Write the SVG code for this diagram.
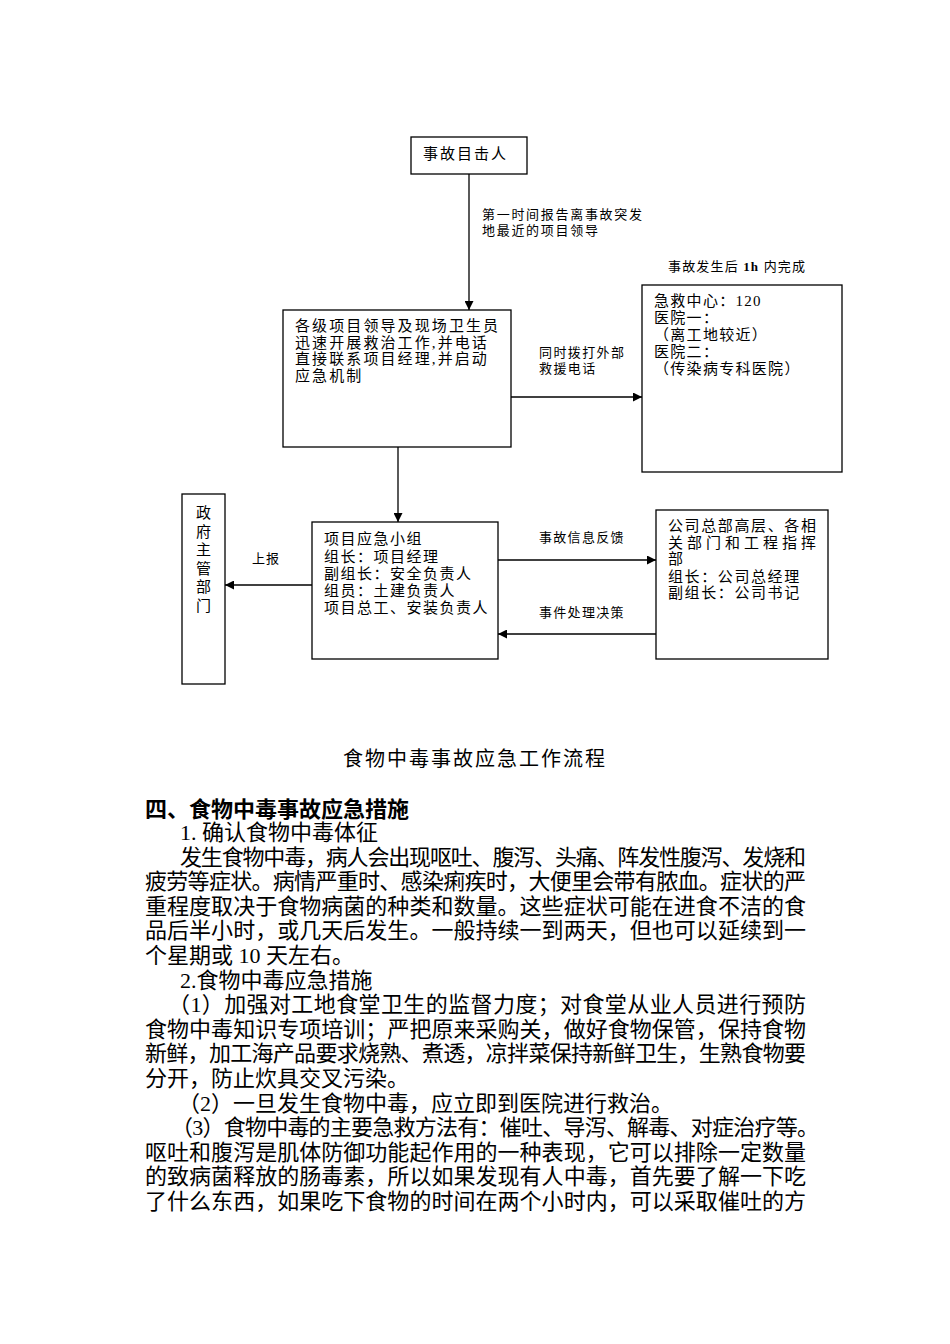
<svg xmlns="http://www.w3.org/2000/svg" width="950" height="1344" viewBox="0 0 950 1344">
<defs>
<style>
.t{font-family:"Liberation Serif","Noto Sans CJK SC",serif;fill:#000}
.n{font-size:15px}
.l{font-size:13px}
.b{font-size:22px}
.box{fill:#fff;stroke:#000;stroke-width:1.3}
.c{fill:none;stroke:#000;stroke-width:1.3}
</style>
<marker id="ah" viewBox="0 0 10 10" refX="10" refY="5" markerWidth="9" markerHeight="9" markerUnits="userSpaceOnUse" orient="auto">
<path d="M0,0 L10,5 L0,10 z" fill="#000"/>
</marker>
</defs>
<rect width="950" height="1344" fill="#fff"/>

<g id="connectors">
<line class="c" x1="469" y1="174" x2="469" y2="310" marker-end="url(#ah)"/>
<line class="c" x1="511" y1="397" x2="642" y2="397" marker-end="url(#ah)"/>
<line class="c" x1="398" y1="447" x2="398" y2="522" marker-end="url(#ah)"/>
<line class="c" x1="312" y1="585" x2="225" y2="585" marker-end="url(#ah)"/>
<line class="c" x1="498" y1="560" x2="656" y2="560" marker-end="url(#ah)"/>
<line class="c" x1="656" y1="634" x2="498" y2="634" marker-end="url(#ah)"/>
<text class="t l" x="482" y="219" letter-spacing="1.7">第一时间报告离事故突发</text>
<text class="t l" x="482" y="235" letter-spacing="1.7">地最近的项目领导</text>
<text class="t l" x="539" y="357" letter-spacing="1.4">同时拨打外部</text>
<text class="t l" x="539" y="373" letter-spacing="1.4">救援电话</text>
<text class="t l" x="252" y="563" letter-spacing="1">上报</text>
<text class="t l" x="539" y="542" letter-spacing="1.3">事故信息反馈</text>
<text class="t l" x="539" y="617" letter-spacing="1.3">事件处理决策</text>
</g>

<g id="witness">
<rect class="box" x="411" y="137" width="116" height="37"/>
<text class="t n" x="423" y="159" letter-spacing="2">事故目击人</text>
</g>

<g id="leaders">
<rect class="box" x="283" y="310" width="228" height="137"/>
<text class="t n" x="295" y="331" letter-spacing="2.1">各级项目领导及现场卫生员</text>
<text class="t n" x="295" y="347.5" letter-spacing="2.1">迅速开展救治工作,并电话</text>
<text class="t n" x="295" y="364" letter-spacing="2.1">直接联系项目经理,并启动</text>
<text class="t n" x="295" y="380.5" letter-spacing="2.1">应急机制</text>
</g>

<g id="rescue-note">
<text class="t l" x="668" y="271" textLength="137" lengthAdjust="spacing">事故发生后 <tspan font-weight="bold">1h</tspan> 内完成</text>
</g>

<g id="rescue">
<rect class="box" x="642" y="285" width="200" height="187"/>
<text class="t n" x="654" y="306" letter-spacing="1.3">急救中心：120</text>
<text class="t n" x="654" y="323" letter-spacing="1.3">医院一：</text>
<text class="t n" x="654" y="340" letter-spacing="1.3">（离工地较近）</text>
<text class="t n" x="654" y="357" letter-spacing="1.3">医院二：</text>
<text class="t n" x="654" y="374" letter-spacing="1.3">（传染病专科医院）</text>
</g>

<g id="gov">
<rect class="box" x="182" y="494" width="43" height="190"/>
<g class="t n" text-anchor="middle">
<text x="203.5" y="518">政</text>
<text x="203.5" y="536.5">府</text>
<text x="203.5" y="555">主</text>
<text x="203.5" y="573.5">管</text>
<text x="203.5" y="592">部</text>
<text x="203.5" y="610.5">门</text>
</g>
</g>

<g id="team">
<rect class="box" x="312" y="522" width="186" height="137"/>
<text class="t n" x="324" y="544" letter-spacing="1.5">项目应急小组</text>
<text class="t n" x="324" y="562" letter-spacing="1.5">组长：项目经理</text>
<text class="t n" x="324" y="579" letter-spacing="1.5">副组长：安全负责人</text>
<text class="t n" x="324" y="596" letter-spacing="1.5">组员：土建负责人</text>
<text class="t n" x="324" y="613" letter-spacing="1.5">项目总工、安装负责人</text>
</g>

<g id="hq">
<rect class="box" x="656" y="510" width="172" height="149"/>
<text class="t n" x="668" y="531" textLength="148" lengthAdjust="spacing">公司总部高层、各相</text>
<text class="t n" x="668" y="548" textLength="148" lengthAdjust="spacing">关部门和工程指挥</text>
<text class="t n" x="668" y="564">部</text>
<text class="t n" x="668" y="582" letter-spacing="1.6">组长：公司总经理</text>
<text class="t n" x="668" y="598" letter-spacing="1.6">副组长：公司书记</text>
</g>

<g id="caption">
<text class="t" font-size="20" x="343" y="766" letter-spacing="2">食物中毒事故应急工作流程</text>
</g>

<g id="body">
<text class="t b" x="145" y="817" font-weight="bold">四、食物中毒事故应急措施</text>
<text class="t b" x="180" y="840">1. 确认食物中毒体征</text>
<text class="t b" x="180" y="864.6" textLength="626" lengthAdjust="spacing">发生食物中毒，病人会出现呕吐、腹泻、头痛、阵发性腹泻、发烧和</text>
<text class="t b" x="145" y="889.2" textLength="661" lengthAdjust="spacing">疲劳等症状。病情严重时、感染痢疾时，大便里会带有脓血。症状的严</text>
<text class="t b" x="145" y="913.8" textLength="661" lengthAdjust="spacing">重程度取决于食物病菌的种类和数量。这些症状可能在进食不洁的食</text>
<text class="t b" x="145" y="938.4" textLength="661" lengthAdjust="spacing">品后半小时，或几天后发生。一般持续一到两天，但也可以延续到一</text>
<text class="t b" x="145" y="963">个星期或 10 天左右。</text>
<text class="t b" x="180" y="987.6">2.食物中毒应急措施</text>
<text class="t b" x="168" y="1012.2" textLength="638" lengthAdjust="spacing">（1）加强对工地食堂卫生的监督力度；对食堂从业人员进行预防</text>
<text class="t b" x="145" y="1036.8" textLength="661" lengthAdjust="spacing">食物中毒知识专项培训；严把原来采购关，做好食物保管，保持食物</text>
<text class="t b" x="145" y="1061.4" textLength="661" lengthAdjust="spacing">新鲜，加工海产品要求烧熟、煮透，凉拌菜保持新鲜卫生，生熟食物要</text>
<text class="t b" x="145" y="1086">分开，防止炊具交叉污染。</text>
<text class="t b" x="178" y="1110.6">（2）一旦发生食物中毒，应立即到医院进行救治。</text>
<text class="t b" x="171" y="1135.2" textLength="648" lengthAdjust="spacing">（3）食物中毒的主要急救方法有：催吐、导泻、解毒、对症治疗等。</text>
<text class="t b" x="145" y="1159.8" textLength="661" lengthAdjust="spacing">呕吐和腹泻是肌体防御功能起作用的一种表现，它可以排除一定数量</text>
<text class="t b" x="145" y="1184.4" textLength="661" lengthAdjust="spacing">的致病菌释放的肠毒素，所以如果发现有人中毒，首先要了解一下吃</text>
<text class="t b" x="145" y="1209" textLength="661" lengthAdjust="spacing">了什么东西，如果吃下食物的时间在两个小时内，可以采取催吐的方</text>
</g>
</svg>
